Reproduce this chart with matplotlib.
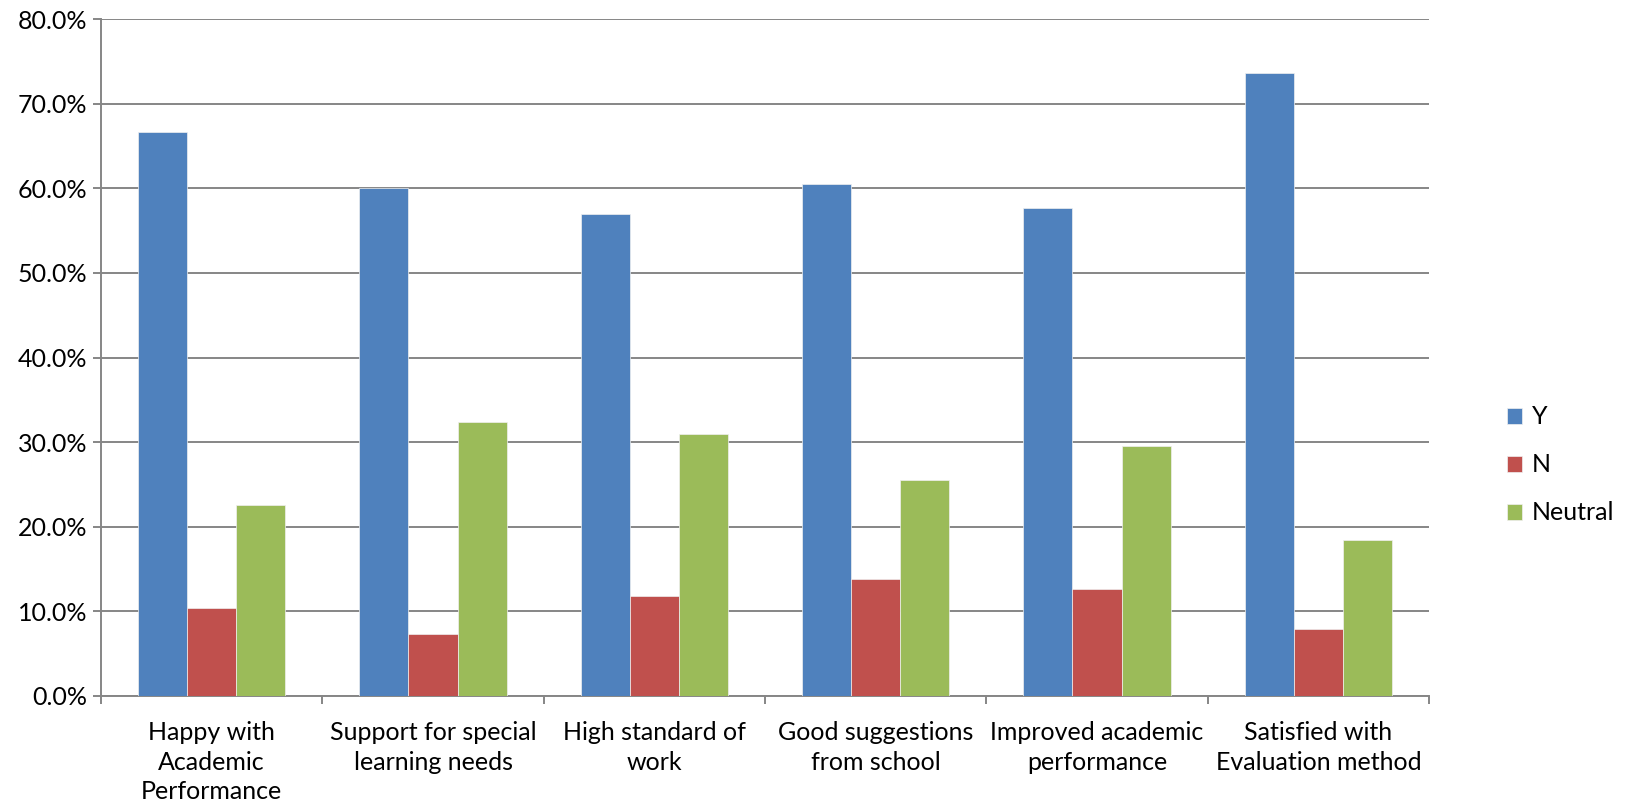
import numpy as np
import matplotlib
matplotlib.use("Agg")
import matplotlib.pyplot as plt
from matplotlib.ticker import FuncFormatter, FixedLocator

plt.rcParams["font.family"] = ["Lato", "DejaVu Sans"]

categories = ["Happy with\nAcademic\nPerformance", "Support for special\nlearning needs",
              "High standard of\nwork", "Good suggestions\nfrom school",
              "Improved academic\nperformance", "Satisfied with\nEvaluation method"]
series_names = ["Y", "N", "Neutral"]
y_vals = [66.7, 60.1, 57.0, 60.5, 57.7, 73.7]
n_vals = [10.4, 7.3, 11.8, 13.8, 12.6, 7.9]
neutral_vals = [22.5, 32.4, 30.9, 25.5, 29.5, 18.4]
colors = ["#4F81BD", "#C0504D", "#9BBB59"]

W, H = 1645, 808
fig = plt.figure(figsize=(W / 100, H / 100), dpi=100)
ax = fig.add_axes([101 / W, (H - 695.7) / H, (1429 - 101) / W, (695.7 - 19.3) / H])

x = np.arange(len(categories))
bw = 1 / 4.5  # Excel-style 150% gap
for k, (vals, name, c) in enumerate(zip([y_vals, n_vals, neutral_vals], series_names, colors)):
    ax.bar(x + (k - 1) * bw, vals, width=bw, color=c, edgecolor="#f0f0f0", linewidth=0.5, label=name, zorder=3)

ax.set_xlim(-0.5, len(categories) - 0.5)
ax.set_ylim(0, 80)
ax.set_yticks(np.arange(0, 81, 10))
ax.yaxis.set_major_formatter(FuncFormatter(lambda v, p: "%.1f%%" % v))
ax.grid(axis="y", color="#868686", lw=1.4, zorder=0)
ax.set_axisbelow(True)

ax.xaxis.set_major_locator(FixedLocator(np.arange(-0.5, len(categories), 1.0)))
ax.xaxis.set_minor_locator(FixedLocator(x))
ax.set_xticklabels([], minor=False)
ax.set_xticklabels(categories, minor=True, linespacing=1.36)
ax.tick_params(axis="x", which="major", length=6, width=1.4, color="#868686", direction="out")
ax.tick_params(axis="x", which="minor", length=0, labelsize=18, pad=18)
ax.tick_params(axis="y", length=6, width=1.4, color="#868686", labelsize=18, pad=4)

for s in ["top", "right"]:
    ax.spines[s].set_visible(False)
for s in ["left", "bottom"]:
    ax.spines[s].set_color("#868686")
    ax.spines[s].set_linewidth(1.4)

ax.legend(loc="center left", bbox_to_anchor=(1497 / W, (H - 465) / H), bbox_transform=fig.transFigure,
          frameon=False, fontsize=18, handlelength=0.6, handleheight=0.6, handletextpad=0.4,
          labelspacing=1.0, borderaxespad=0)

fig.savefig("out.png", dpi=100)
